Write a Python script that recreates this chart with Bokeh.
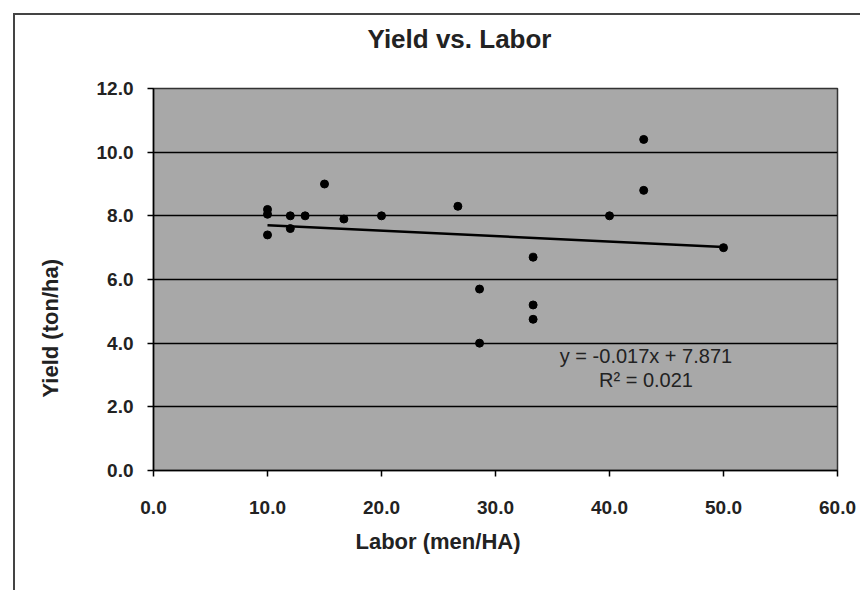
from bokeh.plotting import figure
from bokeh.models import Title, Label, FixedTicker, Range1d, NumeralTickFormatter
from bokeh.embed import file_html
from bokeh.resources import INLINE

# data
labor = [10.0, 10.0, 10.0, 12.0, 12.0, 13.3, 15.0, 16.7, 20.0, 26.7,
         28.6, 28.6, 33.3, 33.3, 33.3, 40.0, 43.0, 43.0, 50.0]
yield_t = [8.2, 8.05, 7.4, 8.0, 7.6, 8.0, 9.0, 7.9, 8.0, 8.3,
           5.7, 4.0, 6.7, 5.2, 4.75, 8.0, 10.4, 8.8, 7.0]
slope = -0.017
intercept = 7.871
r2 = 0.021
x_ticks = [0, 10, 20, 30, 40, 50, 60]
y_ticks = [0, 2, 4, 6, 8, 10, 12]

FONT = "Liberation Sans"

p = figure(width=847, height=577, output_backend="svg", toolbar_location=None,
           x_range=Range1d(0, 60), y_range=Range1d(0, 12),
           min_border_left=138, min_border_top=73, min_border_right=25,
           min_border_bottom=122, background_fill_color="#a8a8a8",
           border_fill_color="white", margin=(13, 0, 0, 13))
p.styles = {"border-left": "2px solid #444444", "border-top": "2px solid #444444"}

p.outline_line_color = "#333333"
p.outline_line_width = 1.5
p.xgrid.grid_line_color = None
p.ygrid.grid_line_color = "black"
p.ygrid.grid_line_width = 1.5
p.ygrid.ticker = FixedTicker(ticks=y_ticks)

for ax, ticks in ((p.xaxis[0], x_ticks), (p.yaxis[0], y_ticks)):
    ax.ticker = FixedTicker(ticks=ticks)
    ax.formatter = NumeralTickFormatter(format="0.0")
    ax.axis_line_color = "black"
    ax.axis_line_width = 1.5
    ax.major_tick_line_color = "black"
    ax.major_tick_line_width = 1.5
    ax.major_tick_out = 6
    ax.major_tick_in = 0
    ax.minor_tick_line_color = None
    ax.major_label_text_font = FONT
    ax.major_label_text_font_style = "bold"
    ax.major_label_text_font_size = "19px"
    ax.major_label_text_color = "#222222"

p.xaxis.major_label_standoff = 24
p.yaxis.major_label_standoff = 14

# trendline
tx = [min(labor), max(labor)]
ty = [slope * v + intercept for v in tx]
p.line(tx, ty, line_color="black", line_width=2.5)

p.scatter(labor, yield_t, marker="circle", size=8, fill_color="black", line_color="black")

p.add_layout(Label(x=43.2, y=3.61, text=f"y = {slope:.3f}x + {intercept:.3f}",
                   text_align="center", text_baseline="middle", text_font=FONT,
                   text_font_size="20px", text_color="#222222"))
p.add_layout(Label(x=43.2, y=2.83, text=f"R² = {r2:.3f}",
                   text_align="center", text_baseline="middle", text_font=FONT,
                   text_font_size="20px", text_color="#222222"))

# spacer between plot area and chart title, then the title itself
p.add_layout(Title(text=" ", text_font_size="2px", standoff=29), "above")
p.add_layout(Title(text="Yield vs. Labor", align="left", offset=214, standoff=4,
                   text_font=FONT, text_font_style="bold", text_font_size="26px",
                   text_color="#222222"), "above")

xl = Title(text="Labor (men/HA)", align="left", offset=202, standoff=21,
           text_font=FONT, text_font_style="bold", text_font_size="22px", text_color="#222222")
p.add_layout(xl, "below")

# spacer between y tick labels and y axis title
p.add_layout(Title(text=" ", text_font_size="2px", standoff=25), "left")
yl = Title(text="Yield (ton/ha)", align="left", offset=73, standoff=4,
           text_font=FONT, text_font_style="bold", text_font_size="22px", text_color="#222222")
p.add_layout(yl, "left")

open("out.html", "w").write(file_html(p, INLINE))
